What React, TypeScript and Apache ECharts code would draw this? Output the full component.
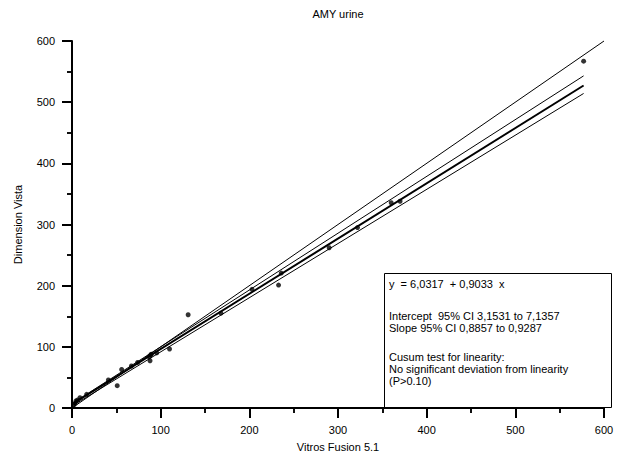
import React, { useEffect, useRef } from "react";
import * as echarts from "echarts";

const xValues = [2, 3.4, 4.5, 6, 9, 16.5, 41, 51, 56, 67, 74, 87, 88, 88.7, 89.5, 95.5, 110, 131, 168, 203, 233, 236, 290, 322, 360, 370, 577];
const yValues = [5, 7.7, 11.4, 13, 16.8, 22.4, 45.8, 36.5, 63, 68.6, 74.5, 83.8, 77.3, 86.6, 88, 90, 96.5, 152.5, 155, 194, 201, 220.6, 262, 295, 335.5, 338, 567];

const intercept = 6.0317;
const slope = 0.9033;
const interceptHi = 7.1357;
const slopeHi = 0.9287;
const interceptLo = 3.1531;
const slopeLo = 0.8857;

const axisRange = [0, 600];
const titleText = "AMY urine";
const xName = "Vitros Fusion 5.1";
const yName = "Dimension Vista";
const legendLines = [
  "y  = 6,0317  + 0,9033  x",
  "Intercept  95% CI 3,1531 to 7,1357",
  "Slope 95% CI 0,8857 to 0,9287",
  "Cusum test for linearity:",
  "No significant deviation from linearity",
  "(P>0.10)",
];

const FONT = "Liberation Sans";

function makeAxis(name: string, gap: number, margin: number) {
  return {
    type: "value",
    min: axisRange[0],
    max: axisRange[1],
    interval: 100,
    name,
    nameLocation: "middle",
    nameGap: gap,
    nameTextStyle: { fontFamily: FONT, fontSize: 11, color: "#000" },
    axisLine: { show: true, onZero: false, lineStyle: { color: "#000", width: 2 } },
    axisTick: { show: true, inside: false, length: 10, lineStyle: { color: "#000", width: 2 } },
    minorTick: { show: true, splitNumber: 2, length: 5, lineStyle: { color: "#000", width: 1.5 } },
    axisLabel: { color: "#000", fontSize: 11, fontFamily: FONT, margin },
    splitLine: { show: false },
  } as any;
}

function makeTickAxis(position: string) {
  return {
    type: "value",
    position,
    offset: 0,
    min: axisRange[0],
    max: axisRange[1],
    interval: 100,
    axisLine: { show: false, onZero: false },
    axisTick: { show: true, inside: false, length: 10, lineStyle: { color: "#000", width: 2 } },
    minorTick: { show: true, splitNumber: 2, length: 5, lineStyle: { color: "#000", width: 1.5 } },
    axisLabel: { show: false },
    splitLine: { show: false },
  } as any;
}

export default function App() {
  const ref = useRef<HTMLDivElement>(null);
  useEffect(() => {
    if (!ref.current) return;
    const chart = echarts.init(ref.current, undefined, { renderer: "svg" });
    const xmin = Math.min(...xValues);
    const xmax = Math.max(...xValues);
    const seg = (a: number, b: number, w: number) => [
      { coord: [xmin, a + b * xmin], lineStyle: { color: "#000", width: w, type: "solid" } },
      { coord: [xmax, a + b * xmax] },
    ];
    const lineYs = [285, 317, 329, 358, 370, 382];
    const textStyle = { fontFamily: FONT, fontSize: 11, fontWeight: "normal", color: "#000" };
    chart.setOption({
      animation: false,
      grid: { left: 72, right: 14, top: 41, bottom: 53 },
      title: [
        { text: titleText, left: 338, top: 8, textAlign: "center", padding: 0, textStyle },
        ...legendLines.map((t, i) => ({
          text: t,
          left: 389,
          top: lineYs[i] - 6.5,
          padding: 0,
          textStyle,
        })),
      ],
      xAxis: [makeAxis(xName, 33, 16), makeTickAxis("bottom")],
      yAxis: [makeAxis(yName, 49, 17), makeTickAxis("left")],
      series: [
        {
          type: "scatter",
          xAxisIndex: 0,
          yAxisIndex: 0,
          data: xValues.map((x, i) => [x, yValues[i]]),
          symbol: "circle",
          symbolSize: 5,
          itemStyle: { color: "#000" },
          markLine: {
            silent: true,
            symbol: ["none", "none"],
            label: { show: false },
            lineStyle: { color: "#000", width: 1, type: "solid" },
            data: [
              [
                { coord: [axisRange[0], axisRange[0]], lineStyle: { color: "#000", width: 1, type: "solid" } },
                { coord: [axisRange[1], axisRange[1]] },
              ],
              seg(interceptHi, slopeHi, 1),
              seg(interceptLo, slopeLo, 1),
              seg(intercept, slope, 2),
            ],
          },
        },
      ],
      graphic: [
        {
          type: "rect",
          shape: { x: 384.5, y: 273.5, width: 227, height: 134 },
          style: { fill: "#fff", stroke: "#000", lineWidth: 1 },
        },
      ],
    });
    return () => chart.dispose();
  }, []);
  return <div ref={ref} style={{ position: "absolute", left: 0, top: 0, width: 618, height: 461, background: "#fff" }} />;
}
